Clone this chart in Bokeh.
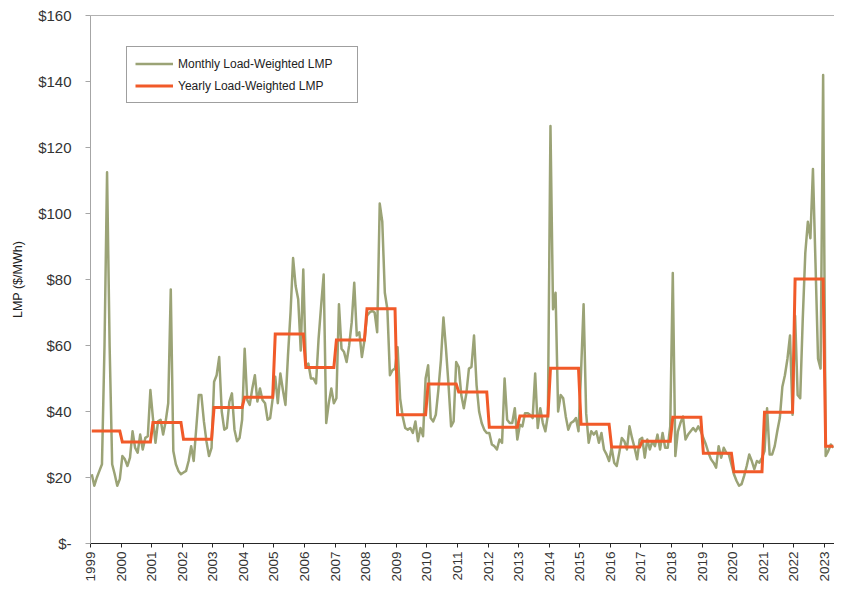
import numpy as np
from bokeh.plotting import figure
from bokeh.models import (ColumnDataSource, FixedTicker, Legend, LegendItem,
                          Span, Range1d)
from bokeh.embed import file_html
from bokeh.resources import INLINE

# ---------------- data ----------------
years = list(range(1999, 2024))

# monthly load-weighted LMP ($/MWh), Jan..Dec
lmp_1999 = [21, 17.5, 20, 22, 24, 60, 112.5, 60, 24, 21, 17.5, 19.5]
lmp_2000 = [26.5, 25.5, 23.5, 26, 34, 29, 27.5, 33, 28.5, 32, 32.5, 46.5]
lmp_2001 = [38, 30.5, 37, 37.5, 33, 37, 42.5, 77, 28, 24, 22, 21]
lmp_2002 = [21.5, 22, 25, 29.5, 25, 35, 45, 45, 37, 31, 26.5, 29]
lmp_2003 = [49, 51, 56.5, 40, 34.5, 35, 43, 45.5, 34.5, 31, 32, 37.5]
lmp_2004 = [59, 43.5, 42, 47, 51, 43, 47, 43.5, 42.5, 37.5, 38, 44]
lmp_2005 = [50.5, 42.5, 51.5, 46.5, 42, 57, 70, 86.5, 78, 74, 58.5, 83]
lmp_2006 = [54, 54.5, 50, 50, 48.5, 62, 72, 81.5, 36.5, 42.5, 47, 42.5]
lmp_2007 = [44, 72.5, 59, 58, 55, 60, 67, 79, 63, 64, 56.5, 61.5]
lmp_2008 = [69, 70, 70.5, 70, 64, 103, 97.5, 76, 71, 51, 52.5, 53]
lmp_2009 = [59.5, 44, 38.5, 35, 34.5, 35, 33.5, 37, 31, 35, 32.5, 50]
lmp_2010 = [54, 38, 37, 39, 46.5, 55.5, 68.5, 59, 48, 35.5, 37, 55]
lmp_2011 = [53.5, 45, 41, 45.5, 53, 53.5, 63, 48, 40, 36.5, 34.5, 33.5]
lmp_2012 = [33.5, 30, 29.5, 28.5, 31.5, 30.5, 50, 37.5, 36.5, 36.5, 41, 31.5]
lmp_2013 = [36, 35.5, 39.5, 39.5, 39, 38, 51.5, 35, 41, 36.5, 34, 39]
lmp_2014 = [126.5, 71, 76, 40, 45, 44, 38.5, 34.5, 36.5, 37, 38, 34]
lmp_2015 = [52, 72.5, 39.5, 30.5, 34, 33, 34, 30.5, 33.5, 28.5, 27, 25]
lmp_2016 = [29, 24.5, 23.5, 27.5, 32, 31, 28.5, 35.5, 32, 29, 25.5, 31.5]
lmp_2017 = [32, 26, 31.5, 28.5, 31, 29.5, 33, 28.5, 33.5, 29, 29, 35.5]
lmp_2018 = [82, 26.5, 34, 36.5, 38.5, 31.5, 33, 34, 35, 34, 35.5, 34]
lmp_2019 = [32, 30, 27.5, 25.5, 24.5, 23, 29.5, 26, 29, 27.5, 27, 24]
lmp_2020 = [21, 19, 17.5, 18, 20.5, 23.5, 27, 25, 22.5, 25, 24.5, 26]
lmp_2021 = [28, 41, 27, 27, 29.5, 34, 38, 47.5, 51, 56, 63, 39]
lmp_2022 = [69, 45, 44, 68, 88, 97.5, 92.5, 113.5, 85, 56, 53, 142]
lmp_2023 = [26.5, 28, 30, 29]

monthly_by_year = [lmp_1999, lmp_2000, lmp_2001, lmp_2002, lmp_2003, lmp_2004,
                   lmp_2005, lmp_2006, lmp_2007, lmp_2008, lmp_2009, lmp_2010,
                   lmp_2011, lmp_2012, lmp_2013, lmp_2014, lmp_2015, lmp_2016,
                   lmp_2017, lmp_2018, lmp_2019, lmp_2020, lmp_2021, lmp_2022,
                   lmp_2023]

# yearly load-weighted LMP ($/MWh)
yearly_lmp = [34.06, 30.72, 36.65, 31.60, 41.23, 44.34, 63.46, 53.35, 61.66,
              71.13, 39.05, 48.35, 45.94, 35.23, 38.66, 53.14, 36.16, 29.23,
              30.99, 38.24, 27.32, 21.77, 39.78, 80.14, 29.50]

y_ticks = [0, 20, 40, 60, 80, 100, 120, 140, 160]
y_tick_labels = ["$-", "$20", "$40", "$60", "$80", "$100", "$120", "$140", "$160"]

# ---------------- build sources ----------------
mx, my, yx, yy = [], [], [], []
for yr, vals, yv in zip(years, monthly_by_year, yearly_lmp):
    for m, v in enumerate(vals):
        xpos = yr + (m + 0.5) / 12.0
        mx.append(xpos)
        my.append(v)
        yx.append(xpos)
        yy.append(yv)

src_m = ColumnDataSource(dict(x=mx, y=my))
src_y = ColumnDataSource(dict(x=yx, y=yy))

FONT = "Liberation Sans"
GREEN = "#9BA376"
ORANGE = "#F15A29"

p = figure(width=834, height=584,
           x_range=Range1d(1999, 2023.33), y_range=Range1d(0, 160),
           output_backend="svg", toolbar_location=None,
           min_border_left=90, min_border_right=0,
           min_border_top=15, min_border_bottom=37)
p.xgrid.visible = False
p.ygrid.visible = False
p.outline_line_color = None
p.background_fill_color = "white"
p.border_fill_color = "white"

r1 = p.line("x", "y", source=src_m, line_color=GREEN, line_width=2.5,
            line_join="round")
r2 = p.line("x", "y", source=src_y, line_color=ORANGE, line_width=3,
            line_join="miter")

# top frame line
p.add_layout(Span(location=160, dimension="width", line_color="#666666",
                  line_width=1))

# y axis
ya = p.yaxis[0]
ya.ticker = FixedTicker(ticks=y_ticks)
ya.major_label_overrides = {t: lab for t, lab in zip(y_ticks, y_tick_labels)}
ya.axis_label = "LMP ($/MWh)"
ya.axis_label_text_font = FONT
ya.axis_label_text_font_size = "12.5px"
ya.axis_label_text_font_style = "normal"
ya.axis_label_text_color = "#222222"
ya.axis_label_standoff = 10
ya.major_label_text_font = FONT
ya.major_label_text_font_size = "15px"
ya.major_label_text_color = "#333333"
ya.major_label_standoff = 14
ya.axis_line_color = "#A6A6A6"
ya.major_tick_line_color = "#A6A6A6"
ya.major_tick_out = 5
ya.major_tick_in = 0
ya.minor_tick_line_color = None

# x axis
xa = p.xaxis[0]
xa.ticker = FixedTicker(ticks=years)
xa.major_label_overrides = {y: str(y) for y in years}
xa.major_label_orientation = np.pi / 2
xa.major_label_text_font = FONT
xa.major_label_text_font_size = "13.5px"
xa.major_label_text_color = "#333333"
xa.major_label_standoff = 4
xa.axis_line_color = "#262626"
xa.major_tick_line_color = "#262626"
xa.major_tick_out = 4
xa.major_tick_in = 0
xa.minor_tick_line_color = None

legend = Legend(items=[LegendItem(label="Monthly Load-Weighted LMP", renderers=[r1]),
                       LegendItem(label="Yearly Load-Weighted LMP", renderers=[r2])],
                location=(36, 440), margin=0, padding=8, spacing=5,
                glyph_width=38, glyph_height=17, label_height=17,
                label_width=171, label_standoff=5,
                label_text_font=FONT, label_text_font_size="12px",
                label_text_color="#222222",
                border_line_color="#404040", border_line_width=1,
                background_fill_color="white", background_fill_alpha=1)
p.add_layout(legend, "center")

open("out.html", "w").write(file_html(p, INLINE))
